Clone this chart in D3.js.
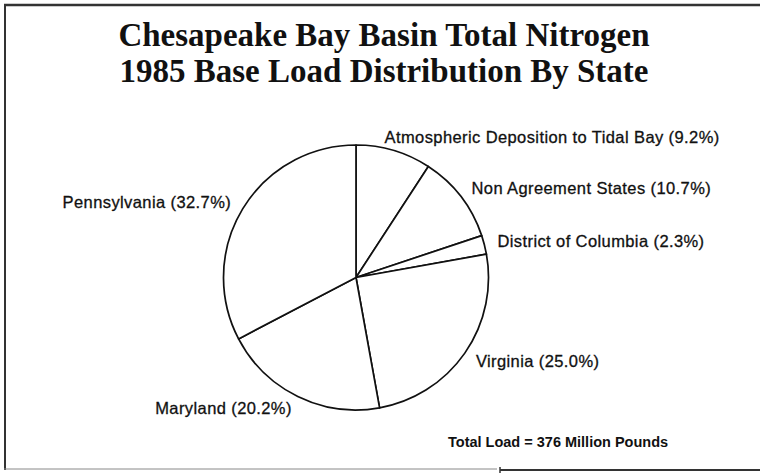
<!DOCTYPE html>
<html>
<head>
<meta charset="utf-8">
<script src="https://cdn.jsdelivr.net/npm/d3@7"></script>
<style>
  body { margin: 0; background: #fff; }
  svg { display: block; }
</style>
</head>
<body>
<svg width="760" height="473"></svg>
<script>
// Chart data
const titleLines = ["Chesapeake Bay Basin Total Nitrogen", "1985 Base Load Distribution By State"];
const categories = ["Atmospheric Deposition to Tidal Bay", "Non Agreement States", "District of Columbia",
                    "Virginia", "Maryland", "Pennsylvania"];
const shares = [9.2, 10.7, 2.3, 25.0, 20.2, 32.7];
const footnote = "Total Load = 376 Million Pounds";

const svg = d3.select("svg");
const width = +svg.attr("width"), height = +svg.attr("height");

// Page frame (scanned border)
const frame = svg.append("g").attr("stroke", "#333").attr("fill", "none");
frame.append("line").attr("x1", 4).attr("y1", 5).attr("x2", width).attr("y2", 5).attr("stroke-width", 2.5);
frame.append("line").attr("x1", 5).attr("y1", 4).attr("x2", 5).attr("y2", 470).attr("stroke-width", 2);
frame.append("line").attr("x1", 4).attr("y1", 469).attr("x2", 497).attr("y2", 469)
    .attr("stroke-width", 1).attr("stroke", "#888");
frame.append("line").attr("x1", 500).attr("y1", 467).attr("x2", 500).attr("y2", height).attr("stroke-width", 1.5);
frame.append("line").attr("x1", 500).attr("y1", 470).attr("x2", width).attr("y2", 470).attr("stroke-width", 2);

// Title
svg.append("g")
    .selectAll("text")
    .data(titleLines)
    .join("text")
    .attr("x", 384)
    .attr("y", (d, i) => 46 + i * 36)
    .attr("text-anchor", "middle")
    .attr("font-family", "'Liberation Serif', 'Times New Roman', serif")
    .attr("font-weight", "bold")
    .attr("font-size", 33)
    .attr("fill", "#111")
    .text(d => d);

// Pie
const cx = 356, cy = 277.5, radius = 132.5, labelRadius = 146;
const data = categories.map((c, i) => ({ name: c, value: shares[i] }));

const pie = d3.pie().sort(null).value(d => d.value);
const arcs = pie(data);
const arc = d3.arc().innerRadius(0).outerRadius(radius);

const g = svg.append("g").attr("transform", `translate(${cx},${cy})`);

g.selectAll("path.slice")
    .data(arcs)
    .join("path")
    .attr("class", "slice")
    .attr("d", arc)
    .attr("fill", "#fff")
    .attr("stroke", "#111")
    .attr("stroke-width", 1.7)
    .attr("stroke-linejoin", "round");

// Labels outside the pie; the top one sits a little left of its slice
g.selectAll("text.label")
    .data(arcs)
    .join("text")
    .attr("class", "label")
    .each(function(d) {
        const mid = (d.startAngle + d.endAngle) / 2;
        let x = labelRadius * Math.sin(mid), y = -labelRadius * Math.cos(mid);
        if (Math.abs(x) < 50) x -= 13;
        d3.select(this)
            .attr("x", x)
            .attr("y", y)
            .attr("text-anchor", x >= 0 ? "start" : "end");
    })
    .attr("dy", "0.35em")
    .attr("font-family", "'Liberation Sans', Arial, Helvetica, sans-serif")
    .attr("font-size", 16.5)
    .attr("letter-spacing", 0.4)
    .attr("fill", "#111")
    .attr("stroke", "#111")
    .attr("stroke-width", 0.3)
    .text(d => `${d.data.name} (${d.data.value.toFixed(1)}%)`);

// Footnote
svg.append("text")
    .attr("x", 448)
    .attr("y", 447)
    .attr("font-family", "'Liberation Sans', Arial, Helvetica, sans-serif")
    .attr("font-weight", "bold")
    .attr("font-size", 14.5)
    .attr("fill", "#111")
    .text(footnote);
</script>
</body>
</html>
